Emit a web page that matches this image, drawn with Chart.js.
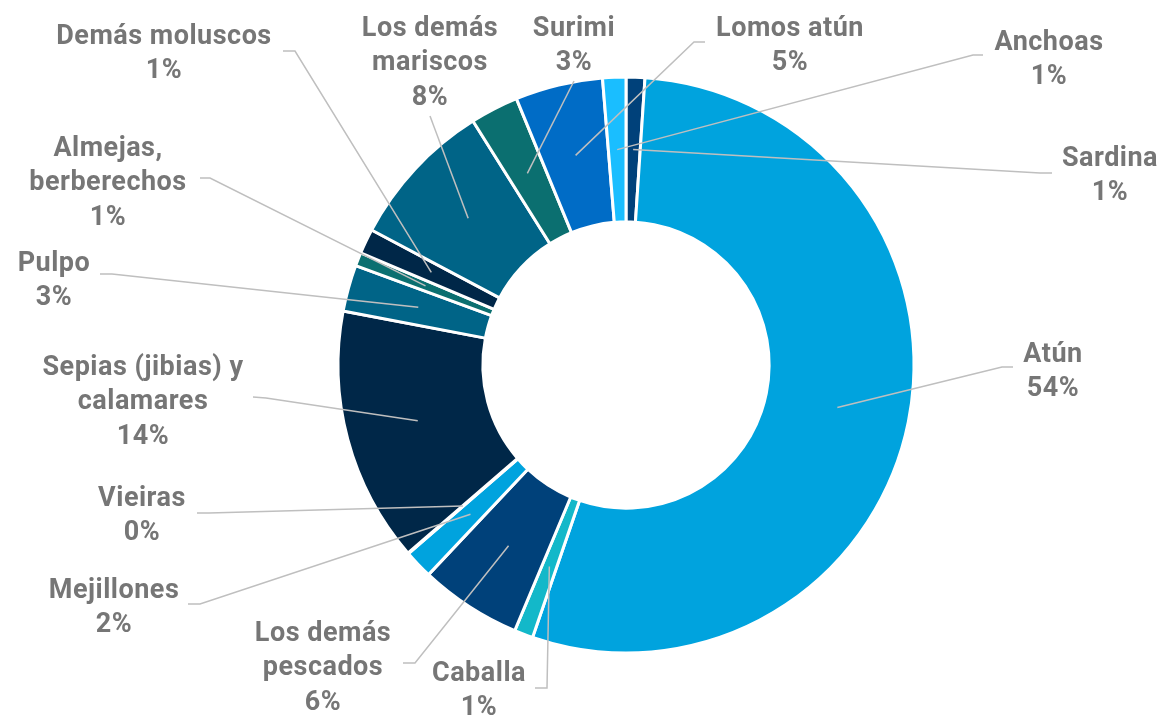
<!DOCTYPE html>
<html><head><meta charset="utf-8">
<script src="https://cdn.jsdelivr.net/npm/chart.js@4.4.1/dist/chart.umd.min.js"></script>
<style>html,body{margin:0;padding:0;background:#fff;overflow:hidden}#wrap{width:1163px;height:717px}</style>
</head><body><div id="wrap"><canvas id="c" width="1163" height="717"></canvas></div>
<script>
// ---- data ----
const categories = ['Sardina','Atún','Caballa','Los demás\npescados','Mejillones','Vieiras','Sepias (jibias) y\ncalamares','Pulpo','Almejas,\nberberechos','Demás moluscos','Los demás\nmariscos','Surimi','Lomos atún','Anchoas'];
const values = [1.05, 54.1, 1.05, 5.7, 1.6, 0.05, 14.3, 2.6, 0.75, 1.4, 8.3, 2.7, 4.9, 1.3];
const colors = ['#00417A','#00A3DE','#13B8C9','#00417A','#00A3DE','#00A3DE','#002748','#006487','#0B6F70','#002748','#006487','#0B6F70','#006CC6','#1ABEFF'];

// ---- label layout (px): [centerX, firstLineY], anchor at label side, elbow ----
const labelAt = [[1110,159],[1053,355],[479,674],[323,634],[114,591],[142,499],[143,368],[54,264],[108,149],[164,37],[430,29],[574,29],[790,29],[1049,43]];
const anchorAt = [[1052,173],[1013,367],[535,688],[403,663],[188,604],[197,513],[253,397],[100,274],[200,178],[283,51],[430,116],[574,81],[705,42],[983,55]];
const elbowAt  = [[1040,173],[1002,367],[547,688],[415,663],[200,604],[209,513],[266,398],[112,274],[210,178],[295,51],[430,116],[574,81],[694,42],[973,55]];

const labelPlugin = {
  id:'outLabels',
  afterDatasetsDraw(chart){
    const ctx = chart.ctx;
    const meta = chart.getDatasetMeta(0);
    ctx.save();
    meta.data.forEach((arc,i)=>{
      const p = arc.getProps(['x','y','startAngle','endAngle','innerRadius','outerRadius'], true);
      const mid = (p.startAngle + p.endAngle)/2;
      const r = (p.innerRadius + p.outerRadius)/2;
      const sx = p.x + Math.cos(mid)*r, sy = p.y + Math.sin(mid)*r;
      ctx.strokeStyle = '#BFBFBF';
      ctx.lineWidth = 1.5;
      ctx.beginPath();
      ctx.moveTo(sx, sy);
      ctx.lineTo(elbowAt[i][0], elbowAt[i][1]);
      ctx.lineTo(anchorAt[i][0], anchorAt[i][1]);
      ctx.stroke();
      const lines = categories[i].split('\n');
      lines.push(Math.round(values[i]) + '%');
      ctx.fillStyle = '#767676';
      ctx.font = '700 27px Roboto';
      try { ctx.letterSpacing = '0.5px'; } catch(e) {}
      ctx.textAlign = 'center';
      ctx.textBaseline = 'middle';
      lines.forEach((t,k)=>ctx.fillText(t, labelAt[i][0], labelAt[i][1] + k*34.5));
    });
    ctx.restore();
  }
};

new Chart(document.getElementById('c'), {
  type:'doughnut',
  data:{ labels: categories, datasets:[{ data: values, backgroundColor: colors, borderColor:'#FFFFFF', borderWidth:3 }] },
  options:{
    responsive:false, animation:false,
    radius:288, cutout:'49.7%', rotation:0,
    layout:{ padding:{ left:89, top:13, right:0, bottom:0 } },
    plugins:{ legend:{display:false}, tooltip:{enabled:false} }
  },
  plugins:[labelPlugin]
});
</script></body></html>
